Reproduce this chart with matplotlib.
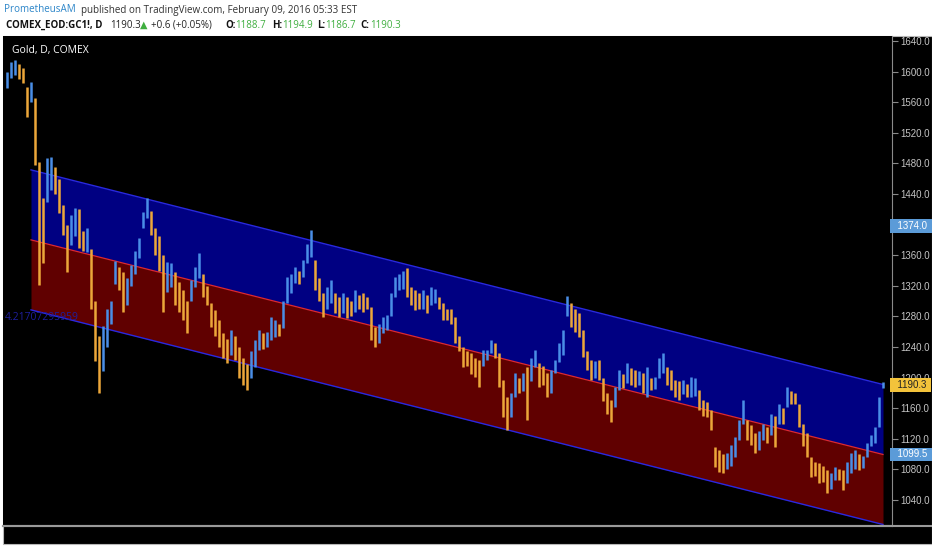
import matplotlib
matplotlib.use('Agg')
import matplotlib.pyplot as plt
from matplotlib.patches import Rectangle
from matplotlib.lines import Line2D
import matplotlib.transforms as mtransforms

W, H = 932, 550

# Gold daily bars (one entry per ~4 px): (high, low)
bars_hl = [
    (1600, 1578), (1612, 1592), (1615, 1596), (1610, 1590), (1605, 1585),
    (1580, 1541), (1586, 1560), (1565, 1478), (1482, 1321), (1435, 1350),
    (1487, 1430), (1488, 1445), (1475, 1440), (1460, 1415), (1426, 1386),
    (1400, 1338), (1413, 1373), (1422, 1385), (1420, 1370), (1392, 1366),
    (1395, 1364), (1368, 1290), (1300, 1222), (1255, 1180), (1268, 1208),
    (1290, 1240), (1300, 1270), (1352, 1322), (1345, 1315), (1338, 1286),
    (1330, 1295), (1347, 1320), (1365, 1335), (1382, 1356), (1416, 1395),
    (1435, 1408), (1418, 1386), (1395, 1360), (1385, 1340), (1360, 1286),
    (1351, 1312), (1350, 1318), (1338, 1295), (1325, 1286), (1314, 1275),
    (1300, 1258), (1327, 1300), (1345, 1318), (1363, 1330), (1335, 1305),
    (1320, 1295), (1297, 1266), (1288, 1255), (1275, 1240), (1258, 1225),
    (1250, 1219), (1262, 1230), (1255, 1223), (1240, 1200), (1225, 1190),
    (1218, 1184), (1235, 1200), (1249, 1214), (1262, 1236), (1258, 1238),
    (1260, 1240), (1279, 1249), (1275, 1253), (1270, 1255), (1300, 1265),
    (1331, 1297), (1335, 1310), (1344, 1324), (1340, 1322), (1354, 1331),
    (1375, 1350), (1393, 1358), (1354, 1314), (1330, 1300), (1310, 1279),
    (1318, 1290), (1327, 1297), (1310, 1285), (1305, 1279), (1310, 1285),
    (1305, 1278), (1300, 1280), (1314, 1286), (1308, 1290), (1310, 1286),
    (1305, 1290), (1292, 1249), (1266, 1240), (1270, 1245), (1279, 1258),
    (1282, 1262), (1310, 1280), (1331, 1305), (1335, 1314), (1340, 1316),
    (1343, 1305), (1318, 1295), (1315, 1288), (1310, 1290), (1314, 1290),
    (1308, 1284), (1318, 1295), (1316, 1297), (1305, 1290), (1297, 1275),
    (1290, 1275), (1290, 1270), (1279, 1245), (1255, 1235), (1240, 1214),
    (1235, 1215), (1232, 1205), (1225, 1201), (1223, 1188), (1236, 1215),
    (1236, 1223), (1249, 1232), (1245, 1225), (1232, 1188), (1197, 1148),
    (1175, 1131), (1180, 1148), (1206, 1175), (1200, 1180), (1206, 1182),
    (1214, 1145), (1225, 1195), (1236, 1214), (1219, 1188), (1215, 1190),
    (1206, 1175), (1210, 1180), (1223, 1206), (1245, 1220), (1262, 1230),
    (1307, 1280), (1297, 1266), (1290, 1260), (1284, 1253), (1262, 1227),
    (1235, 1210), (1223, 1197), (1222, 1200), (1223, 1197), (1200, 1170),
    (1180, 1153), (1171, 1142), (1188, 1162), (1210, 1184), (1205, 1186),
    (1219, 1193), (1212, 1190), (1210, 1188), (1208, 1190), (1206, 1180),
    (1214, 1175), (1200, 1184), (1201, 1185), (1225, 1200), (1232, 1206),
    (1214, 1190), (1210, 1184), (1197, 1175), (1195, 1171), (1197, 1178),
    (1192, 1175), (1201, 1175), (1200, 1176), (1184, 1158), (1171, 1150),
    (1168, 1148), (1158, 1131), (1109, 1083), (1105, 1077), (1100, 1075),
    (1101, 1080), (1112, 1085), (1122, 1096), (1144, 1118), (1171, 1140),
    (1144, 1118), (1138, 1112), (1127, 1101), (1130, 1105), (1140, 1118),
    (1135, 1115), (1153, 1125), (1150, 1109), (1166, 1140), (1160, 1140),
    (1188, 1162), (1182, 1166), (1180, 1166), (1166, 1135), (1140, 1110),
    (1127, 1096), (1096, 1070), (1090, 1072), (1088, 1062), (1085, 1064),
    (1079, 1049), (1075, 1055), (1083, 1066), (1080, 1066), (1079, 1053),
    (1090, 1062), (1101, 1075), (1105, 1080), (1100, 1079), (1098, 1082),
    (1114, 1096), (1125, 1110), (1135, 1114), (1175, 1135), (1194.9, 1186.7),
]
highs = [b[0] for b in bars_hl]
lows = [b[1] for b in bars_hl]

# regression channel: price at first and last bar of the channel
channel_start = 6
upper_line = [1471.5, 1191.0]
mid_line = [1380.0, 1099.5]
lower_line = [1288.5, 1008.0]
channel_text = '4.21707295959'

price_ticks = list(range(1040, 1641, 40))
hidden_ticks = [1400]  # covered by the 1374.0 marker
price_labels = [('1374.0', 1398.0, '#5b9bd8', 'white'),
                ('1190.3', 1190.3, '#f3c33b', '#222222'),
                ('1099.5', 1099.5, '#5b9bd8', 'white')]

header_row1 = [(4, 'PrometheusAM', '#2d86c9', 'normal'),
               (81, 'published on TradingView.com, February 09, 2016 05:33 EST', '#333333', 'normal')]
green = '#3fae3f'
header_row2 = [(6, 'COMEX_EOD:GC1!, D', '#111111', 'bold'),
               (110, '1190.3', '#222222', 'normal'),
               (140, '\u25b2', green, 'normal'),
               (151, '+0.6 (+0.05%)', '#222222', 'normal'),
               (225, 'O:', '#111111', 'bold'),
               (235, '1188.7', green, 'normal'),
               (272, 'H:', '#111111', 'bold'),
               (282, '1194.9', green, 'normal'),
               (317, 'L:', '#111111', 'bold'),
               (325, '1186.7', green, 'normal'),
               (360, 'C:', '#111111', 'bold'),
               (370, '1190.3', green, 'normal')]

FONT = ['Open Sans', 'DejaVu Sans']


def fx(px):
    return px / W


def fy(py):
    return 1 - py / H


fig = plt.figure(figsize=(W / 100, H / 100), dpi=100, facecolor='white')

# black chart panel incl. price scale and bottom strip (behind the axes)
fig.add_artist(Rectangle((fx(3), fy(544)), fx(929), (544 - 36) / H,
                         facecolor='black', edgecolor='#b8b8b8', linewidth=0.8, zorder=-5))

ax = fig.add_axes([fx(3), fy(526), fx(889), (526 - 36) / H], facecolor='black')

n = len(bars_hl)
xs = list(range(n))
step = 4.0
ax.set_xlim(-(7 - 3) / step, (n - 1) + (892 - 883) / step)
ax.set_ylim(1640 - (526 - 41) / 0.765, 1640 + (41 - 36) / 0.765)

# channel
cx = [channel_start, n - 1]
ax.fill_between(cx, mid_line, upper_line, color='#000082', linewidth=0, zorder=1)
ax.fill_between(cx, lower_line, mid_line, color='#600000', linewidth=0, zorder=1)
ax.plot(cx, upper_line, color='#2828e0', linewidth=1.0, zorder=2)
ax.plot(cx, lower_line, color='#2828e0', linewidth=1.0, zorder=2)
ax.plot(cx, mid_line, color='#e0282e', linewidth=0.9, zorder=2)
ax.text(-0.5, 1278, channel_text, color='#1e1e9c', fontsize=7.5, family=FONT,
        va='center', ha='left', zorder=2)

# bars: blue when the bar rose against the previous one, orange otherwise
cols = []
for i in range(n):
    mid = (highs[i] + lows[i]) / 2
    prev = (highs[i - 1] + lows[i - 1]) / 2 if i > 0 else mid
    cols.append('#4a8ee6' if mid >= prev else '#eca73a')
ax.vlines(xs, lows, highs, colors=cols, linewidth=1.8, zorder=3)

# price scale on the right
ax.yaxis.tick_right()
ax.set_yticks(price_ticks)
ax.set_yticklabels(['' if p in hidden_ticks else '%.1f' % p for p in price_ticks])
ax.tick_params(axis='y', colors='#8a8a8a', labelcolor='#c4c4c4', labelsize=7,
               length=4, width=0.8, pad=2)
ax.set_xticks([])
for side in ['top', 'left']:
    ax.spines[side].set_visible(False)
ax.spines['right'].set_color('#8a8a8a')
ax.spines['bottom'].set_color('#9a9a9a')
ax.spines['bottom'].set_linewidth(1.5)
for lab in ax.get_yticklabels():
    lab.set_family(['Liberation Sans', 'DejaVu Sans'])

trans = mtransforms.blended_transform_factory(ax.transAxes, ax.transData)
for txt, price, bg, fg in price_labels:
    ax.text(1.0, price, '  ' + txt + ' ', transform=trans, color=fg, fontsize=7,
            family=['Liberation Sans', 'DejaVu Sans'], va='center', ha='left',
            clip_on=False, zorder=5,
            bbox=dict(boxstyle='square,pad=0.18', facecolor=bg, edgecolor='none'))

# bottom strip line
fig.add_artist(Line2D([fx(3), fx(932)], [fy(526), fy(526)], color='#9a9a9a', linewidth=1.5))

ax.text((12 - 3) / 889, 1.0 - (50 - 36) / 490, 'Gold, D, COMEX', transform=ax.transAxes,
        color='white', fontsize=7.5, family=FONT, va='center', ha='left')

for x, s, c, w in header_row1:
    fig.text(fx(x), fy(10), s, color=c, fontsize=7.1, fontweight=w, family=FONT, va='center')
for x, s, c, w in header_row2:
    fig.text(fx(x), fy(25), s, color=c, fontsize=7.0, fontweight=w, family=FONT, va='center')

fig.savefig('out.png', dpi=100, facecolor='white')
